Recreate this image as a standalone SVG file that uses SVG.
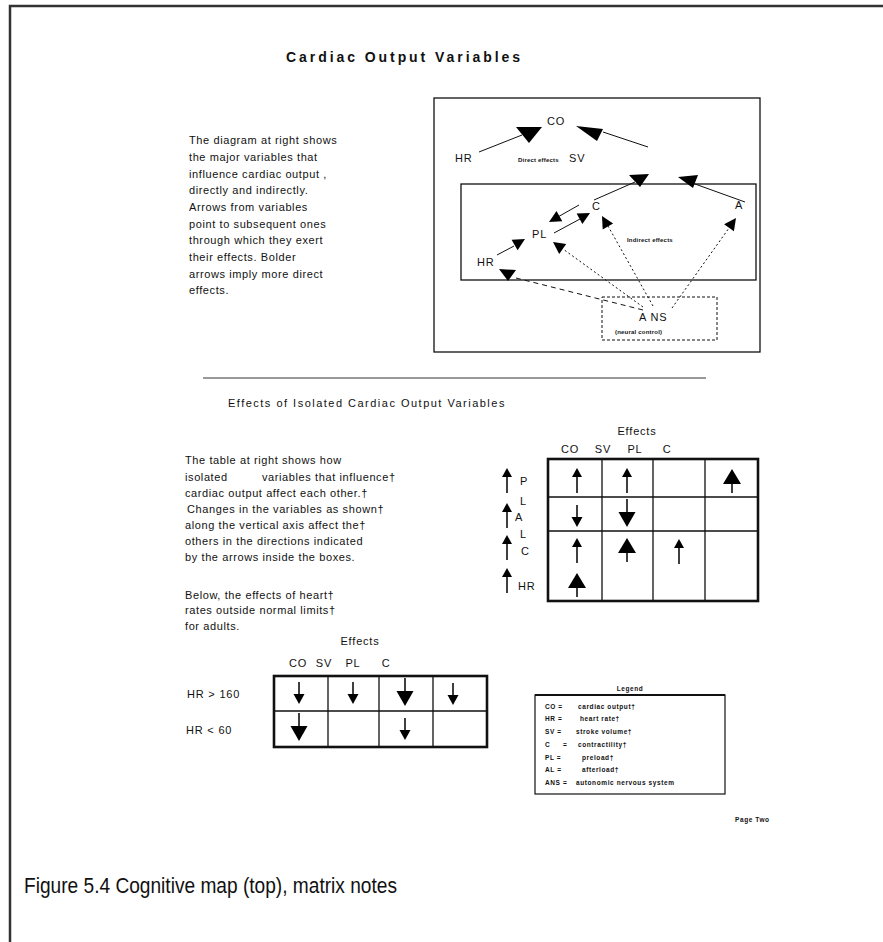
<svg xmlns="http://www.w3.org/2000/svg" width="883" height="942" viewBox="0 0 883 942">
<style>
  text{font-family:"Liberation Sans",Arial,Helvetica,sans-serif;fill:#111}
  .b{font-size:11px;letter-spacing:.6px}
  .lbl{font-size:11px;letter-spacing:.8px}
  .tiny{font-size:6px;font-weight:bold;letter-spacing:.2px}
  .leg{font-size:6.5px;font-weight:bold;letter-spacing:.6px}
  .box{fill:none;stroke:#111;stroke-width:1.3}
  .ln{stroke:#111;stroke-width:1;fill:none}
  .dot{stroke:#111;stroke-width:1;stroke-dasharray:2 2.5;fill:none}
  .dash{stroke:#111;stroke-width:1;stroke-dasharray:5 4;fill:none}
  .grid{stroke:#111;stroke-width:1.3;fill:none}
  .gout{stroke:#111;stroke-width:2.6;fill:none}
  .head{fill:#000}
</style>
<defs>
  <!-- small / bold up and down arrows used in the matrices -->
  <g id="aUpS"><polygon points="0,0 -5,9 5,9"/><rect x="-0.75" y="8" width="1.5" height="17"/></g>
  <g id="aUpB"><polygon points="0,0 -9,15 9,15"/><rect x="-0.75" y="14" width="1.5" height="10"/></g>
  <g id="aDnS"><rect x="-0.75" y="0" width="1.5" height="13"/><polygon points="-5.5,12 5.5,12 0,22"/></g>
  <g id="aDnB"><rect x="-0.75" y="0" width="1.5" height="14"/><polygon points="-8.5,13 8.5,13 0,28"/></g>
</defs>

<rect width="883" height="942" fill="#fff"/>
<!-- page frame -->
<path d="M10 942V6H883" fill="none" stroke="#333" stroke-width="2.5"/>

<!-- heading -->
<text x="286" y="62" font-size="14" font-weight="bold" textLength="234" lengthAdjust="spacing">Cardiac Output Variables</text>

<!-- intro paragraph -->
<g id="intro" class="b">
  <text x="189" y="144">The diagram at right shows</text>
  <text x="189" y="161">the major variables that</text>
  <text x="189" y="178">influence cardiac output ,</text>
  <text x="189" y="194">directly and indirectly.</text>
  <text x="189" y="211">Arrows from variables</text>
  <text x="189" y="228">point to subsequent ones</text>
  <text x="189" y="244">through which they exert</text>
  <text x="189" y="261">their effects.  Bolder</text>
  <text x="189" y="278">arrows imply more direct</text>
  <text x="189" y="294">effects.</text>
</g>

<!-- cognitive map -->
<g id="map">
  <rect class="box" x="434" y="98" width="326" height="254"/>
  <rect class="box" x="461" y="184" width="295" height="96"/>

  <g id="connectors">
    <line class="ln" x1="479" y1="152" x2="522" y2="135"/>
    <line class="ln" x1="603" y1="132" x2="648" y2="147"/>
    <line class="ln" x1="594" y1="200" x2="635" y2="182"/>
    <line class="ln" x1="745" y1="202" x2="695" y2="184"/>
    <line class="ln" x1="579" y1="205" x2="556" y2="218"/>
    <line class="ln" x1="554" y1="233" x2="580" y2="219"/>
    <line class="ln" x1="497" y1="255" x2="514" y2="246"/>
    <line class="dot" x1="653" y1="306" x2="608" y2="226"/>
    <line class="dot" x1="672" y1="308" x2="729" y2="228"/>
    <line class="dot" x1="643" y1="307" x2="563" y2="249"/>
    <line class="dash" x1="643" y1="310" x2="516" y2="278"/>
    <g class="head">
      <polygon points="516,127 542,127 529,143"/>
      <polygon points="576,126 603,129 597,141"/>
      <polygon points="629,175 649,174 640,187"/>
      <polygon points="678,177 698,175 693,188"/>
      <polygon points="549,222 562.3,221.3 556.5,210.9"/>
      <polygon points="590,213 582.4,224 576.6,213.6"/>
      <polygon points="602,216 613.1,223.4 602.7,229.4"/>
      <polygon points="736,218 733.9,231.3 724.1,224.3"/>
      <polygon points="525,239 517.6,250.2 511.6,239.8"/>
      <polygon points="553,242 566.2,244.1 559.2,253.9"/>
      <polygon points="499,269 516,270 508,281"/>
    </g>
  </g>

  <g id="n-co"><text class="lbl" x="556" y="125" text-anchor="middle">CO</text></g>
  <g id="n-hr-top"><text class="lbl" x="455" y="162">HR</text></g>
  <g id="n-sv">
    <text class="tiny" x="518" y="162">Direct effects</text>
    <text class="lbl" x="569" y="162">SV</text>
  </g>
  <g id="n-c"><text class="lbl" x="592" y="210">C</text></g>
  <g id="n-a"><text class="lbl" x="735" y="209">A</text></g>
  <g id="n-pl"><text class="lbl" x="532" y="238">PL</text></g>
  <g id="n-hr"><text class="lbl" x="477" y="266">HR</text></g>
  <text class="tiny" x="627" y="242">Indirect effects</text>
  <g id="n-ans">
    <rect x="602" y="297" width="115" height="43" fill="none" stroke="#111" stroke-width="1" stroke-dasharray="3 2"/>
    <text class="lbl" x="639" y="321">A NS</text>
    <text class="tiny" x="615" y="334">(neural control)</text>
  </g>
</g>

<!-- divider -->
<line x1="203" y1="378" x2="706" y2="378" stroke="#333" stroke-width="1"/>

<text class="b" x="228" y="407" textLength="277" lengthAdjust="spacing">Effects of Isolated Cardiac Output Variables</text>

<!-- matrix notes -->
<g id="notes" class="b">
  <text x="185" y="464">The table at right shows how</text>
  <text x="185" y="481">isolated</text>
  <text x="262" y="481">variables that influence†</text>
  <text x="185" y="497">cardiac output affect each other.†</text>
  <text x="187" y="513">Changes in the variables as shown†</text>
  <text x="185" y="529">along the vertical axis affect the†</text>
  <text x="185" y="545">others in the directions indicated</text>
  <text x="185" y="561">by the arrows inside the boxes.</text>
  <text x="185" y="599">Below, the effects of heart†</text>
  <text x="185" y="614">rates outside normal limits†</text>
  <text x="185" y="630">for adults.</text>
</g>

<!-- isolated-variable matrix -->
<g id="matrix1">
  <text class="lbl" x="637" y="435" text-anchor="middle">Effects</text>
  <g class="lbl" text-anchor="middle">
    <text x="570" y="453">CO</text>
    <text x="603" y="453">SV</text>
    <text x="635" y="453">PL</text>
    <text x="667" y="453">C</text>
  </g>
  <path class="grid" d="M602 459V601M653 459V601M705 459V601M548 497H758M548 531H758"/>
  <rect class="gout" x="548" y="459" width="210" height="142"/>
  <g class="head">
    <use href="#aUpS" x="507" y="468"/>
    <use href="#aUpS" x="507" y="503"/>
    <use href="#aUpS" x="507" y="535"/>
    <use href="#aUpS" x="507" y="568"/>
    <use href="#aUpS" x="577" y="468"/>
    <use href="#aUpS" x="627" y="468"/>
    <use href="#aUpB" x="732" y="469"/>
    <use href="#aDnS" x="577" y="505"/>
    <use href="#aDnB" x="627" y="499"/>
    <use href="#aUpS" x="577" y="538"/>
    <use href="#aUpB" x="627" y="538"/>
    <use href="#aUpS" x="679" y="539"/>
    <use href="#aUpB" x="577" y="573"/>
  </g>
  <g class="lbl">
    <text x="520" y="485">P</text>
    <text x="520" y="505">L</text>
    <text x="515" y="521">A</text>
    <text x="520" y="538">L</text>
    <text x="521" y="555">C</text>
    <text x="518" y="590">HR</text>
  </g>
</g>

<!-- heart-rate matrix -->
<g id="matrix2">
  <text class="lbl" x="360" y="645" text-anchor="middle">Effects</text>
  <g class="lbl" text-anchor="middle">
    <text x="298" y="667">CO</text>
    <text x="324" y="667">SV</text>
    <text x="353" y="667">PL</text>
    <text x="386" y="667">C</text>
  </g>
  <text class="lbl" x="187" y="698">HR &gt; 160</text>
  <text class="lbl" x="186" y="734">HR &lt; 60</text>
  <path class="grid" d="M328 676V747M379 676V747M433 676V747M274 711H487"/>
  <rect class="gout" x="274" y="676" width="213" height="71"/>
  <g class="head">
    <use href="#aDnS" x="299" y="682"/>
    <use href="#aDnS" x="353" y="682"/>
    <use href="#aDnB" x="405" y="678"/>
    <use href="#aDnS" x="453" y="683"/>
    <use href="#aDnB" x="299" y="713"/>
    <use href="#aDnS" x="405" y="718"/>
  </g>
</g>

<!-- legend -->
<g id="legend">
  <text class="leg" x="630" y="691" text-anchor="middle">Legend</text>
  <rect x="535" y="695" width="190" height="99" fill="none" stroke="#111" stroke-width="1.2"/>
  <line x1="535" y1="695" x2="725" y2="695" stroke="#111" stroke-width="2"/>
  <g class="leg">
    <text x="545" y="709">CO =</text><text x="578" y="709">cardiac output†</text>
    <text x="545" y="721">HR =</text><text x="580" y="721">heart rate†</text>
    <text x="545" y="734">SV =</text><text x="576" y="734">stroke volume†</text>
    <text x="545" y="747">C</text><text x="563" y="747">=</text><text x="578" y="747">contractility†</text>
    <text x="545" y="760">PL =</text><text x="582" y="760">preload†</text>
    <text x="545" y="772">AL =</text><text x="582" y="772">afterload†</text>
    <text x="545" y="785">ANS =</text><text x="576" y="785">autonomic nervous system</text>
  </g>
</g>

<text class="leg" x="735" y="822" letter-spacing="0">Page Two</text>

<text x="24" y="893" font-size="22" textLength="373" lengthAdjust="spacingAndGlyphs" fill="#111">Figure 5.4 Cognitive map (top), matrix notes</text>
</svg>
